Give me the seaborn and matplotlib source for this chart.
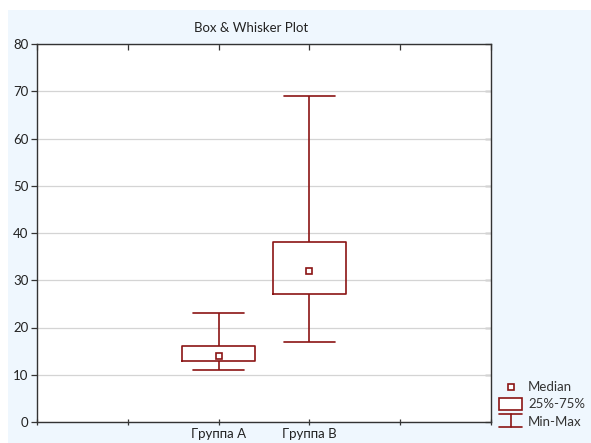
import matplotlib
matplotlib.use("Agg")
import matplotlib.pyplot as plt
from matplotlib.patches import Rectangle
from matplotlib.lines import Line2D
import pandas as pd
import seaborn as sns

# values (min, q1, median, q3, max for each group)
groups = ["Группа A", "Группа B"]
group_a = [11, 13, 14, 16, 23]
group_b = [17, 27, 32, 38, 69]
y_ticks = [0, 10, 20, 30, 40, 50, 60, 70, 80]

RED = "#8b1414"
BG = "#eff7fe"
W, H = 591, 443
FS = 9.5

df = pd.DataFrame({
    "group": [groups[0]] * len(group_a) + [groups[1]] * len(group_b),
    "value": group_a + group_b,
})

sns.set_style("white")
plt.rcParams["font.family"] = ["Lato", "DejaVu Sans"]

fig = plt.figure(figsize=(W / 100, H / 100), dpi=100)
fig.patch.set_facecolor("white")
fig.add_artist(Rectangle((8 / W, 0), 1 - 8 / W, (H - 10) / H,
                         transform=fig.transFigure, facecolor=BG,
                         edgecolor="none", zorder=-10))

ax = fig.add_axes([37 / W, 1 - 422 / H, (491 - 37) / W, (422 - 44) / H])
ax.set_facecolor("white")

sns.boxplot(data=df, x="group", y="value", order=groups, whis=(0, 100),
            width=0.8, fill=False, color=RED, linewidth=1.2,
            showfliers=False, capwidths=0.57,
            medianprops={"linewidth": 0}, ax=ax)
sns.pointplot(data=df, x="group", y="value", order=groups,
              estimator="median", errorbar=None, linestyle="none",
              marker="s", markersize=4.5, markerfacecolor="white",
              markeredgecolor=RED, markeredgewidth=1.2, color=RED, ax=ax)

ax.set_xlim(-2, 3)
ax.set_ylim(0, 80)
ax.set_yticks(y_ticks)
ax.set_xticks([-2, -1, 0, 1, 2, 3])
ax.set_xticklabels(["", ""] + groups + ["", ""])
ax.grid(axis="y", color="#d4d4d4", linewidth=0.9)
ax.set_axisbelow(True)
ax.set_xlabel("")
ax.set_ylabel("")
for s in ax.spines.values():
    s.set_visible(True)
    s.set_color("#333333")
    s.set_linewidth(1.0)

ax.tick_params(axis="y", which="both", left=True, right=False, direction="out",
               length=4, width=0.9, color="#333333", labelsize=FS, pad=2,
               labelcolor="#222222")
ax.tick_params(axis="x", which="both", bottom=True, top=False, direction="inout",
               length=5, width=0.9, color="#333333", labelsize=FS, pad=2,
               labelcolor="#222222")
ax_r = ax.secondary_yaxis("right")
ax_r.set_yticks(y_ticks)
ax_r.tick_params(direction="in", length=4, width=0.9, color="#333333", labelright=False)
ax_r.spines["right"].set_visible(False)
ax_t = ax.secondary_xaxis("top")
ax_t.set_xticks([-2, -1, 0, 1, 2, 3])
ax_t.tick_params(direction="in", length=4, width=0.9, color="#333333", labeltop=False)
ax_t.spines["top"].set_visible(False)

fig.text(251 / W, 1 - 28 / H, "Box & Whisker Plot", ha="center", va="center",
         fontsize=FS, color="#222222")

# legend
lg = fig.add_axes([495 / W, 1 - 432 / H, 96 / W, 55 / H])
lg.set_xlim(0, 96)
lg.set_ylim(55, 0)
lg.axis("off")
lg.add_line(Line2D([16], [10], marker="s", markersize=4.5, markerfacecolor="white",
                   markeredgecolor=RED, markeredgewidth=1.2, linestyle="none"))
lg.add_patch(Rectangle((4, 21), 23, 12, facecolor="white", edgecolor=RED, linewidth=1.2))
lg.add_line(Line2D([4, 27], [37, 37], color=RED, linewidth=1.2))
lg.add_line(Line2D([15.5, 15.5], [37, 50], color=RED, linewidth=1.2))
lg.add_line(Line2D([4, 27], [50, 50], color=RED, linewidth=1.2))
lg.text(33, 10, "Median", va="center", fontsize=FS, color="#333333")
lg.text(33, 27, "25%-75%", va="center", fontsize=FS, color="#333333")
lg.text(33, 45, "Min-Max", va="center", fontsize=FS, color="#333333")

fig.savefig("out.png", dpi=100)
